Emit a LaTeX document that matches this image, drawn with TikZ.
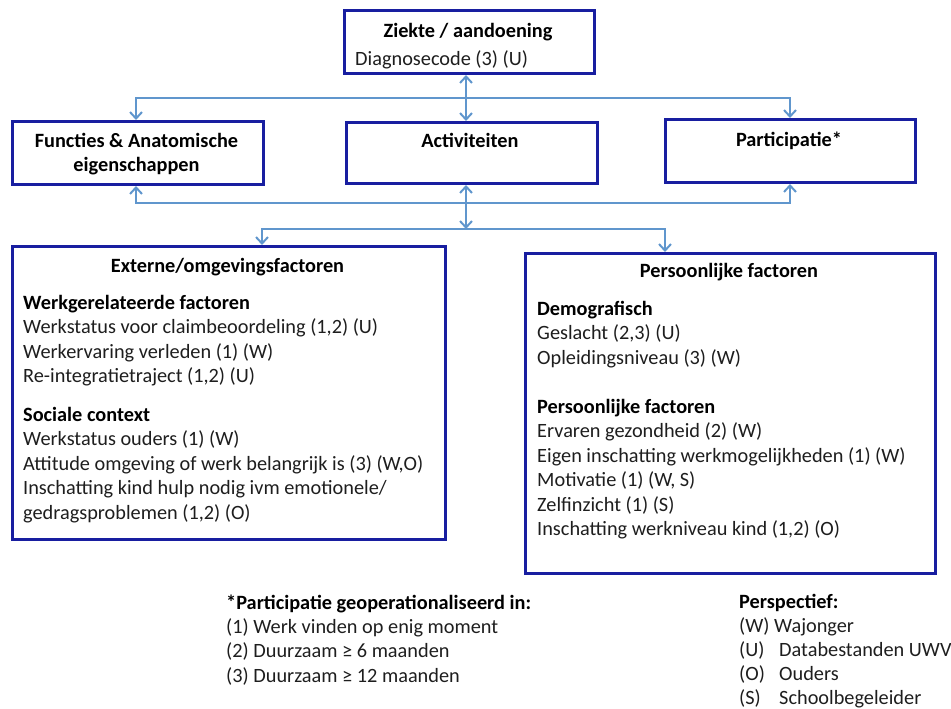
\documentclass[tikz,border=0pt]{standalone}
\usepackage{fontspec}
\setmainfont{Carlito}
\usetikzlibrary{arrows.meta}
\definecolor{boxblue}{RGB}{24,30,160}
\definecolor{lineblue}{RGB}{96,150,205}
\definecolor{txtcol}{RGB}{30,30,30}
\begin{document}
\begin{tikzpicture}[x=1pt,y=-1pt,
  box/.style={draw=boxblue, line width=3pt, fill=white, inner sep=0pt, anchor=north west},
  conn/.style={draw=lineblue, line width=2pt},
  onetip/.style={-{Straight Barb[length=6.5pt,width=12pt,line width=2pt]}},
  twotips/.style={{Straight Barb[length=6.5pt,width=12pt,line width=2pt]}-{Straight Barb[length=6.5pt,width=12pt,line width=2pt]}},
  txt/.style={anchor=base west, inner sep=0pt, text=txtcol, font=\fontsize{20.3}{24}\selectfont},
  ctxt/.style={anchor=base, inner sep=0pt, text=black, font=\fontsize{20.3}{24}\selectfont\bfseries},
  btxt/.style={txt, text=black, font=\fontsize{20.3}{24}\selectfont\bfseries}]
\useasboundingbox (0,0) rectangle (951,709);

% boxes
\node[box, minimum width=250pt, minimum height=63pt] (top) at (343,9) {};
\node[box, minimum width=251pt, minimum height=63pt] (func) at (11,120) {};
\node[box, minimum width=251pt, minimum height=61pt] (act) at (345,121) {};
\node[box, minimum width=250pt, minimum height=63pt] (part) at (664,118) {};
\node[box, minimum width=433pt, minimum height=293pt] (ext) at (11,245) {};
\node[box, minimum width=410pt, minimum height=320pt] (pers) at (524,252) {};

% helper coordinates
\coordinate (vx) at (466,0);
\coordinate (lx) at (136,0);
\coordinate (rx) at (790,0);
\coordinate (bl) at (262,0);
\coordinate (br) at (665,0);
\coordinate (h1) at (0,98);
\coordinate (h2) at (0,203);
\coordinate (h3) at (0,229);

% connectors
\draw[conn, twotips] (top.south -| vx) -- (act.north -| vx);
\draw[conn, onetip] (vx |- h1) -| (func.north -| lx);
\draw[conn, onetip] (vx |- h1) -| (part.north -| rx);
\draw[conn, onetip] (vx |- h2) -| (func.south -| lx);
\draw[conn, onetip] (vx |- h2) -| (part.south -| rx);
\draw[conn, twotips] (act.south -| vx) -- (vx |- h3);
\draw[conn, onetip] (vx |- h3) -| (ext.north -| bl);
\draw[conn, onetip] (vx |- h3) -| (pers.north -| br);

% top box text
\node[ctxt] (t1) at (468,38) {Ziekte / aandoening};
\node[txt] (t2) at (355,66) {Diagnosecode (3) (U)};

% middle row
\node[ctxt] (f1) at (136.5,147) {Functies \& Anatomische};
\node[ctxt] (f2) at (136.5,171) {eigenschappen};
\node[ctxt] (a1) at (470,147) {Activiteiten};
\node[ctxt] (p1) at (789,146) {Participatie*};

% left box
\node[ctxt] (e0) at (227.5,272) {Externe/omgevingsfactoren};
\node[btxt] (e1) at (23,309) {Werkgerelateerde factoren};
\node[txt] (e2) at (23,333.5) {Werkstatus voor claimbeoordeling (1,2) (U)};
\node[txt] (e3) at (23,358) {Werkervaring verleden (1) (W)};
\node[txt] (e4) at (23,382.5) {Re-integratietraject (1,2) (U)};
\node[btxt] (e5) at (23,421) {Sociale context};
\node[txt] (e6) at (23,445.5) {Werkstatus ouders (1) (W)};
\node[txt] (e7) at (23,470) {Attitude omgeving of werk belangrijk is (3) (W,O)};
\node[txt] (e8) at (23,494.5) {Inschatting kind hulp nodig ivm emotionele/};
\node[txt] (e9) at (23,519) {gedragsproblemen (1,2) (O)};

% right box
\node[ctxt] (r0) at (729,277) {Persoonlijke factoren};
\node[btxt] (r1) at (537,315) {Demografisch};
\node[txt] (r2) at (537,339.5) {Geslacht (2,3) (U)};
\node[txt] (r3) at (537,364) {Opleidingsniveau (3) (W)};
\node[btxt] (r4) at (537,413) {Persoonlijke factoren};
\node[txt] (r5) at (537,437.5) {Ervaren gezondheid (2) (W)};
\node[txt] (r6) at (537,462) {Eigen inschatting werkmogelijkheden (1) (W)};
\node[txt] (r7) at (537,486.5) {Motivatie (1) (W, S)};
\node[txt] (r8) at (537,511) {Zelfinzicht (1) (S)};
\node[txt] (r9) at (537,535.5) {Inschatting werkniveau kind (1,2) (O)};

% footnote
\node[btxt] (n0) at (226,609) {*Participatie geoperationaliseerd in:};
\node[txt] (n1) at (226,633) {(1) Werk vinden op enig moment};
\node[txt] (n2) at (226,657.5) {(2) Duurzaam ≥ 6 maanden};
\node[txt] (n3) at (226,682) {(3) Duurzaam ≥ 12 maanden};

% legend
\node[btxt] (l0) at (739,608) {Perspectief:};
\node[txt] (l1) at (739,632) {(W) Wajonger};
\node[txt] (l2a) at (739,656) {(U)};
\node[txt] (l2b) at (779,656) {Databestanden UWV};
\node[txt] (l3a) at (739,680) {(O)};
\node[txt] (l3b) at (779,680) {Ouders};
\node[txt] (l4a) at (739,704) {(S)};
\node[txt] (l4b) at (779,704) {Schoolbegeleider};
\end{tikzpicture}
\end{document}
